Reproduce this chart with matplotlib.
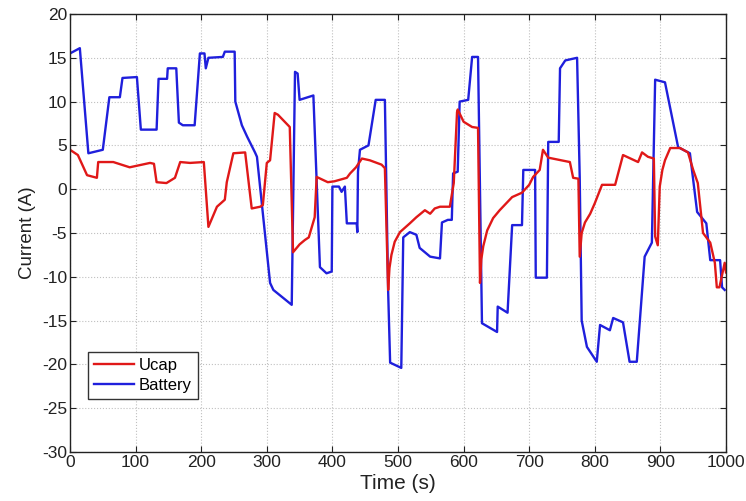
import matplotlib
matplotlib.use("Agg")
import matplotlib.pyplot as plt

# Ucap current (A) vs time (s)
t_ucap = [0, 12, 26, 41, 43, 66, 91, 122, 128, 132, 147, 160, 168, 183, 204,
          211, 224, 236, 239, 249, 267, 277, 290, 294, 300, 305, 312, 317, 335,
          340, 350, 358, 364, 373, 376, 393, 403, 422, 427, 436, 445, 457, 475,
          480, 485, 487, 490, 495, 503, 518, 528, 541, 549, 556, 564, 579, 585,
          590, 591, 600, 613, 622, 625, 627, 630, 636, 645, 655, 674, 689, 700,
          706, 716, 721, 729, 762, 767, 775, 777, 780, 785, 793, 800, 811, 831,
          843, 866, 872, 881, 890, 892, 896, 899, 903, 907, 915, 930, 942, 950,
          957, 965, 976, 983, 986, 990, 998, 1000]
i_ucap = [4.5, 3.9, 1.6, 1.3, 3.1, 3.1, 2.5, 3.0, 2.9, 0.8, 0.7, 1.3, 3.1, 3.0, 3.1,
          -4.3, -2.0, -1.2, 0.8, 4.1, 4.2, -2.2, -2.0, -1.8, 3.0, 3.3, 8.7, 8.5, 7.1,
          -7.2, -6.3, -5.8, -5.5, -3.2, 1.4, 0.8, 0.9, 1.3, 1.8, 2.5, 3.5, 3.3, 2.8,
          2.4, -11.5, -9.0, -7.5, -6.0, -4.9, -3.9, -3.2, -2.4, -2.8, -2.2, -2.0, -2.0, 0.7,
          8.8, 9.1, 7.7, 7.1, 7.0, -10.7, -8.0, -6.5, -4.7, -3.3, -2.4, -0.9, -0.4, 0.5,
          1.4, 2.2, 4.5, 3.6, 3.1, 1.3, 1.2, -7.7, -5.0, -3.8, -2.8, -1.6, 0.5, 0.5,
          3.9, 3.1, 4.2, 3.7, 3.5, -5.4, -6.4, 0.3, 2.2, 3.3, 4.7, 4.7, 4.2, 2.2,
          0.7, -5.0, -6.1, -8.4, -11.2, -11.2, -8.4, -9.5]

# Battery current (A) vs time (s)
t_batt = [0, 15, 28, 50, 60, 76, 80, 102, 108, 132, 135, 148, 149, 162, 166, 172,
          190, 198, 205, 207, 211, 233, 236, 251, 252, 262, 270, 282, 285, 305, 310,
          338, 343, 347, 350, 371, 381, 391, 399, 400, 410, 414, 419, 422, 437, 438,
          439, 442, 455, 466, 480, 485, 488, 505, 508, 518, 528, 533, 549, 564, 567,
          576, 582, 584, 591, 594, 607, 613, 622, 628, 651, 652, 667, 674, 689, 691,
          709, 710, 727, 729, 745, 747, 755, 773, 777, 780, 788, 803, 808, 823, 828,
          843, 853, 864, 876, 887, 892, 907, 927, 945, 956, 970, 976, 991, 994, 998]
i_batt = [15.5, 16.1, 4.1, 4.5, 10.5, 10.5, 12.7, 12.8, 6.8, 6.8, 12.6, 12.6, 13.8, 13.8, 7.6, 7.3,
          7.3, 15.5, 15.5, 13.8, 15.0, 15.1, 15.7, 15.7, 10.0, 7.3, 6.0, 4.2, 3.7, -10.7, -11.5,
          -13.2, 13.4, 13.2, 10.2, 10.7, -8.9, -9.6, -9.4, 0.3, 0.3, -0.3, 0.3, -3.9, -3.9, -4.9,
          2.0, 4.5, 5.0, 10.2, 10.2, -11.7, -19.8, -20.4, -5.5, -4.9, -5.2, -6.7, -7.7, -7.9, -3.8,
          -3.5, -3.5, 1.8, 2.0, 10.0, 10.2, 15.1, 15.1, -15.3, -16.3, -13.4, -14.1, -4.1, -4.1, 2.2,
          2.2, -10.1, -10.1, 5.4, 5.4, 13.8, 14.7, 15.0, 1.4, -15.0, -18.0, -19.7, -15.5, -16.1, -14.7,
          -15.2, -19.7, -19.7, -7.7, -6.1, 12.5, 12.2, 4.8, 4.1, -2.6, -3.9, -8.1, -8.1, -11.2, -11.5]

x_ticks = list(range(0, 1001, 100))
y_ticks = list(range(-30, 21, 5))

plt.rcParams['font.family'] = ['Liberation Sans', 'DejaVu Sans']
plt.rcParams['axes.unicode_minus'] = False

fig = plt.figure(figsize=(7.46, 5.01), dpi=100)
ax = fig.add_axes([70 / 746, 1 - 452 / 501, 656 / 746, 438 / 501])

lb, = ax.plot(t_batt, i_batt, color='#1f1fdc', lw=1.7, label='Battery')
lu, = ax.plot(t_ucap, i_ucap, color='#e01818', lw=1.7, label='Ucap')

ax.set_xlim(0, 1000)
ax.set_ylim(-30, 20)
ax.set_xticks(x_ticks)
ax.set_yticks(y_ticks)
ax.tick_params(direction='in', top=True, right=True, labelsize=12.5, length=4,
               colors='#222222', pad=2)
ax.grid(True, linestyle=':', color='#c0c0c0', linewidth=0.8)
for s in ax.spines.values():
    s.set_linewidth(1.0)
    s.set_color('#222222')

ax.set_xlabel('Time (s)', fontsize=15, color='#222222', labelpad=3)
ax.set_ylabel('Current (A)', fontsize=13.5, color='#222222', labelpad=4)

leg = ax.legend([lu, lb], ['Ucap', 'Battery'], loc='lower left',
                bbox_to_anchor=(18 / 656, 53 / 438), borderaxespad=0,
                fancybox=False, framealpha=1, edgecolor='#333333',
                fontsize=12, handlelength=2.4, handletextpad=0.3,
                borderpad=0.35, labelspacing=0.3)
leg.get_frame().set_linewidth(1.0)

fig.savefig('out.png', dpi=100)
